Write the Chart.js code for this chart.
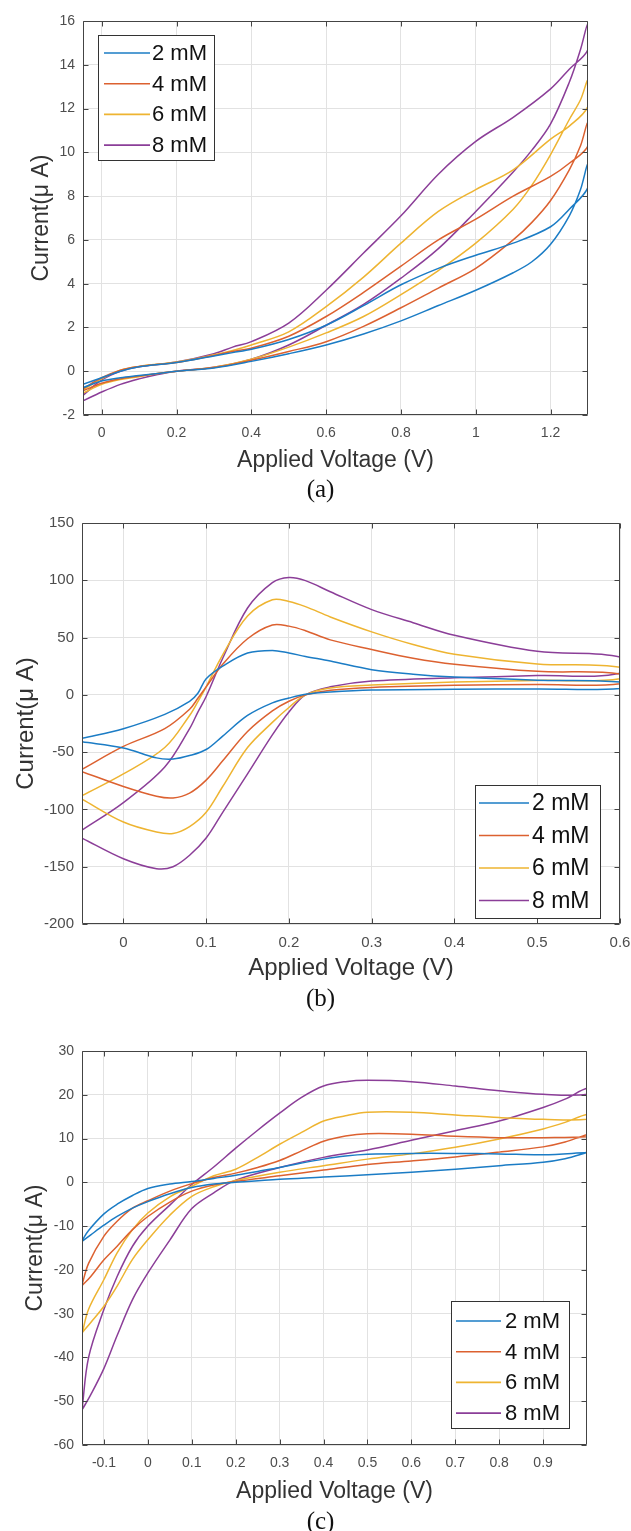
<!DOCTYPE html>
<html><head><meta charset="utf-8">
<script src="https://cdn.jsdelivr.net/npm/chart.js@4.4.1/dist/chart.umd.min.js"></script>
<style>
html,body{margin:0;padding:0;background:#fff;}
body{width:631px;height:1531px;position:relative;overflow:hidden;}
canvas{position:absolute;left:0;}
.cap{position:absolute;left:0;width:641px;text-align:center;font-family:"Liberation Serif","Times New Roman",serif;font-size:25px;line-height:25px;color:#111;}
</style></head><body>
<canvas id="ca" width="631" height="480" style="top:0px"></canvas>
<canvas id="cb" width="631" height="500" style="top:500px"></canvas>
<canvas id="cc" width="631" height="480" style="top:1030px"></canvas>
<div class="cap" style="top:476px">(a)</div>
<div class="cap" style="top:985px">(b)</div>
<div class="cap" style="top:1508px">(c)</div>
<script>
// ---------- shared ----------
const SERIES_LABELS = ['2 mM', '4 mM', '6 mM', '8 mM'];
const X_TITLE = 'Applied Voltage (V)';
const Y_TITLE = 'Current(\u03BC A)';

// ---------- panel (a) ----------
const A_X_TICKS = [0, 0.2, 0.4, 0.6, 0.8, 1, 1.2];
const A_Y_TICKS = [-2, 0, 2, 4, 6, 8, 10, 12, 14, 16];
const A_V_FWD = [-0.05, 0, 0.05, 0.1, 0.15, 0.2, 0.3, 0.4, 0.5, 0.6, 0.7, 0.8, 0.9, 1.0, 1.1, 1.15, 1.2, 1.25, 1.28, 1.3];
const A_V_REV = [1.3, 1.25, 1.2, 1.1, 1.0, 0.9, 0.8, 0.7, 0.6, 0.5, 0.4, 0.35, 0.3, 0.2, 0.1, 0.05, 0, -0.05];
const A_2MM_FWD = [-0.75, -0.45, -0.3, -0.2, -0.1, 0, 0.15, 0.45, 0.8, 1.2, 1.7, 2.3, 3.0, 3.7, 4.5, 5.0, 5.8, 7.1, 8.3, 9.5];
const A_4MM_FWD = [-0.9, -0.55, -0.35, -0.22, -0.1, 0, 0.17, 0.5, 0.9, 1.35, 2.05, 2.9, 3.8, 4.7, 6.0, 6.8, 7.8, 9.2, 10.3, 11.4];
const A_6MM_FWD = [-1.0, -0.6, -0.38, -0.25, -0.1, 0, 0.18, 0.55, 1.1, 1.75, 2.5, 3.5, 4.6, 5.85, 7.4, 8.5, 9.9, 11.5, 12.4, 13.3];
const A_8MM_FWD = [-1.35, -0.95, -0.6, -0.35, -0.15, 0, 0.18, 0.55, 1.2, 2.1, 3.05, 4.25, 5.6, 7.3, 9.1, 10.1, 11.3, 13.2, 14.7, 15.9];
const A_2MM_REV = [8.4, 7.4, 6.6, 5.85, 5.3, 4.7, 3.95, 3.0, 2.1, 1.45, 1.0, 0.85, 0.7, 0.4, 0.2, 0.0, -0.3, -0.6];
const A_4MM_REV = [10.3, 9.5, 8.9, 8.0, 6.95, 6.0, 4.8, 3.6, 2.5, 1.6, 1.05, 0.9, 0.72, 0.4, 0.22, 0.05, -0.3, -0.8];
const A_6MM_REV = [12.1, 11.2, 10.6, 9.2, 8.3, 7.3, 5.85, 4.3, 2.95, 1.8, 1.2, 0.95, 0.75, 0.42, 0.22, 0.05, -0.35, -0.85];
const A_8MM_REV = [14.7, 13.8, 12.9, 11.6, 10.5, 9.0, 7.1, 5.4, 3.7, 2.2, 1.35, 1.1, 0.8, 0.42, 0.2, 0.0, -0.4, -1.1];

// ---------- panel (b) ----------
const B_X_TICKS = [0, 0.1, 0.2, 0.3, 0.4, 0.5, 0.6];
const B_Y_TICKS = [-200, -150, -100, -50, 0, 50, 100, 150];
const B_V_FWD = [-0.05, 0, 0.05, 0.08, 0.09, 0.1, 0.12, 0.15, 0.18, 0.2, 0.22, 0.25, 0.3, 0.35, 0.4, 0.5, 0.6];
const B_V_REV = [0.6, 0.5, 0.4, 0.3, 0.25, 0.22, 0.2, 0.18, 0.15, 0.12, 0.1, 0.08, 0.06, 0.04, 0, -0.05];
const B_2MM_FWD = [-38, -29.5, -17, -5.6, 1.4, 14, 25, 36.5, 38.8, 36.5, 33.5, 29.5, 22, 18, 15.5, 12.8, 11.2];
const B_4MM_FWD = [-65, -45, -29.5, -12.6, -3, 7, 26.7, 49, 61, 60, 56, 48, 39.6, 32, 26.7, 20.5, 18.3];
const B_6MM_FWD = [-88, -69, -46, -18, -6, 7, 35, 68.8, 83, 81.5, 77, 68, 55, 44, 35.5, 27, 24];
const B_8MM_FWD = [-118, -94, -63, -29.5, -15, -1.4, 32, 75.8, 98, 102.5, 99.7, 90, 74.4, 63, 52, 38, 33];
const B_2MM_REV = [5.6, 5.2, 4.8, 4.2, 2.5, 0.5, -2.8, -7, -18, -36, -47.7, -53, -56, -55, -46.3, -41];
const B_4MM_REV = [9.8, 9, 8.4, 6.5, 4, 0, -5.6, -14, -32, -57.6, -74.4, -85.7, -90, -88.5, -80, -67];
const B_6MM_REV = [14, 12.6, 11.2, 8.5, 6, 0, -11, -24, -46, -80, -102.5, -115, -121, -119.7, -111, -91];
const B_8MM_REV = [18.8, 16.8, 14.9, 12, 7, 0, -15, -35, -69, -102.5, -125, -140, -150, -151.7, -143, -125];

// ---------- panel (c) ----------
const C_X_TICKS = [-0.1, 0, 0.1, 0.2, 0.3, 0.4, 0.5, 0.6, 0.7, 0.8, 0.9];
const C_Y_TICKS = [-60, -50, -40, -30, -20, -10, 0, 10, 20, 30];
const C_V_FWD = [-0.15, -0.135, -0.1, -0.07, -0.035, 0, 0.05, 0.1, 0.15, 0.2, 0.25, 0.3, 0.35, 0.4, 0.45, 0.5, 0.6, 0.7, 0.8, 0.9, 1.0];
const C_V_REV = [1.0, 0.95, 0.9, 0.8, 0.7, 0.6, 0.5, 0.4, 0.3, 0.2, 0.15, 0.1, 0.05, 0, -0.035, -0.07, -0.1, -0.13, -0.15];
const C_2MM_FWD = [-13.3, -11, -7.2, -5, -3, -1.4, -0.4, 0.2, 0.9, 1.6, 2.5, 3.4, 4.4, 5.3, 6.0, 6.4, 6.6, 6.6, 6.5, 6.3, 6.8];
const C_4MM_FWD = [-23.4, -18.5, -12.3, -8.9, -5.9, -4.2, -2, -0.3, 1.1, 2.1, 3.4, 5.0, 7.2, 9.4, 10.6, 11.1, 11.0, 10.5, 10.2, 10.2, 10.4];
const C_6MM_FWD = [-34.6, -29, -22.2, -16.1, -10.8, -7, -3.3, -0.9, 1.5, 3.0, 5.7, 8.7, 11.4, 14.0, 15.2, 16.0, 16.0, 15.4, 14.8, 14.4, 14.4];
const C_8MM_FWD = [-52, -40, -29, -21.5, -14.6, -10, -5.2, -0.5, 3.5, 7.8, 11.9, 15.8, 19.4, 22, 23, 23.3, 23, 22, 20.9, 20.1, 20.1];
const C_2MM_REV = [6.8, 5.4, 4.6, 3.8, 3.0, 2.3, 1.75, 1.2, 0.7, 0.0, -0.4, -1.2, -2.6, -4.4, -5.9, -7.8, -9.8, -12, -13.5];
const C_4MM_REV = [10.9, 9.2, 8.1, 6.9, 5.8, 4.9, 4.1, 2.8, 1.5, 0.2, -0.6, -2.0, -4.5, -7.8, -10.8, -14.6, -17.7, -21.5, -23.6];
const C_6MM_REV = [15.5, 13.7, 12.2, 9.9, 8.0, 6.5, 5.3, 3.8, 2.3, 0.4, -1.0, -3.2, -7.5, -13.1, -17.6, -23.7, -28.3, -32, -34.4];
const C_8MM_REV = [21.5, 19, 17.1, 14, 11.8, 9.6, 7.4, 5.7, 3.4, 0.5, -2.4, -6, -13.2, -20.7, -26.8, -35, -42.5, -48.5, -52];

// ---------- styling ----------
const LINE_COLORS = ['#1b7cc5', '#dc6130', '#eeb431', '#8b3e98'];
const FONT_SANS = '"Liberation Sans", Arial, Helvetica, sans-serif';
Chart.defaults.font.family = FONT_SANS;
Chart.defaults.color = '#4d4d4d';

function loop(vf, iF, vr, iR) {
  const pts = [];
  vf.forEach((v, k) => pts.push({ x: v, y: iF[k] }));
  vr.forEach((v, k) => pts.push({ x: v, y: iR[k] }));
  return pts;
}

const framePlugin = {
  id: 'cvFrame',
  afterDatasetsDraw(chart) {
    const { ctx, chartArea: a, scales: { x, y } } = chart;
    ctx.save();
    ctx.strokeStyle = '#444';
    ctx.lineWidth = 1;
    ctx.beginPath();
    const L = Math.round(a.left) + 0.5, R = Math.round(a.right) - 0.5;
    const T = Math.round(a.top) + 0.5, B = Math.round(a.bottom) - 0.5;
    ctx.rect(L, T, R - L, B - T);
    const tl = 5;
    x.ticks.forEach(t => {
      const p = Math.round(x.getPixelForValue(t.value)) + 0.5;
      ctx.moveTo(p, B); ctx.lineTo(p, B - tl);
      ctx.moveTo(p, T); ctx.lineTo(p, T + tl);
    });
    y.ticks.forEach(t => {
      const p = Math.round(y.getPixelForValue(t.value)) + 0.5;
      ctx.moveTo(L, p); ctx.lineTo(L + tl, p);
      ctx.moveTo(R, p); ctx.lineTo(R - tl, p);
    });
    ctx.stroke();
    ctx.restore();
  },
  afterDraw(chart, args, o) {
    if (!o || !o.box) return;
    const { ctx } = chart;
    const b = o.box;
    ctx.save();
    ctx.fillStyle = '#fff';
    ctx.fillRect(b.x, b.y, b.w, b.h);
    ctx.strokeStyle = '#333';
    ctx.lineWidth = 1;
    ctx.strokeRect(b.x + 0.5, b.y + 0.5, b.w, b.h);
    ctx.font = o.fontSize + 'px ' + FONT_SANS;
    ctx.textBaseline = 'middle';
    ctx.textAlign = 'left';
    chart.data.datasets.forEach((ds, k) => {
      const yy = b.y + o.rowStart + k * o.rowGap;
      ctx.strokeStyle = ds.borderColor;
      ctx.lineWidth = 1.6;
      ctx.beginPath();
      ctx.moveTo(b.x + o.lineX0, yy);
      ctx.lineTo(b.x + o.lineX1, yy);
      ctx.stroke();
      ctx.fillStyle = '#111';
      ctx.fillText(ds.label, b.x + o.textX, yy + 1);
    });
    ctx.restore();
  }
};

function makeChart(id, cfg) {
  const fwd = cfg.fwd, rev = cfg.rev;
  const datasets = SERIES_LABELS.map((lab, k) => ({
    label: lab,
    data: loop(cfg.vf, fwd[k], cfg.vr, rev[k]),
    showLine: true,
    borderColor: LINE_COLORS[k],
    backgroundColor: LINE_COLORS[k],
    borderWidth: 1.5,
    pointRadius: 0,
    pointHoverRadius: 0,
    tension: 0.35,
    fill: false
  }));
  const lay = cfg.layout;
  const xTicks = cfg.xTicks, yTicks = cfg.yTicks;
  return new Chart(document.getElementById(id), {
    type: 'scatter',
    data: { datasets },
    plugins: [framePlugin],
    options: {
      responsive: false,
      animation: false,
      devicePixelRatio: 1,
      layout: { padding: lay.padding },
      plugins: {
        legend: { display: false },
        tooltip: { enabled: false },
        cvFrame: cfg.legend
      },
      scales: {
        x: {
          type: 'linear',
          min: cfg.xMin, max: cfg.xMax,
          afterBuildTicks: s => { s.ticks = xTicks.map(v => ({ value: v })); },
          afterFit: s => { s.height = lay.xAxisH; s.paddingLeft = 0; s.paddingRight = 0; },
          grid: { color: '#e2e2e2', lineWidth: 1, drawTicks: false },
          border: { display: false },
          ticks: { padding: 10, maxRotation: 0, autoSkip: false, color: '#4d4d4d',
                   font: { size: cfg.tickSize }, callback: v => String(v) },
          title: { display: true, text: X_TITLE, color: '#333', padding: 0,
                   font: { size: cfg.titleSize, lineHeight: 1.2 } }
        },
        y: {
          type: 'linear',
          min: cfg.yMin, max: cfg.yMax,
          afterBuildTicks: s => { s.ticks = yTicks.map(v => ({ value: v })); },
          afterFit: s => { s.width = lay.yAxisW; s.paddingTop = 0; s.paddingBottom = 0; },
          grid: { color: '#e2e2e2', lineWidth: 1, drawTicks: false },
          border: { display: false },
          ticks: { padding: 8, autoSkip: false, color: '#4d4d4d',
                   font: { size: cfg.tickSize }, callback: v => String(v) },
          title: { display: true, text: Y_TITLE, color: '#333', padding: 0,
                   font: { size: cfg.titleSize, lineHeight: 1.2 } }
        }
      }
    }
  });
}

// panel (a)
makeChart('ca', {
  vf: A_V_FWD, vr: A_V_REV,
  fwd: [A_2MM_FWD, A_4MM_FWD, A_6MM_FWD, A_8MM_FWD],
  rev: [A_2MM_REV, A_4MM_REV, A_6MM_REV, A_8MM_REV],
  xTicks: A_X_TICKS, yTicks: A_Y_TICKS,
  xMin: -0.05, xMax: 1.3, yMin: -2, yMax: 16,
  tickSize: 14, titleSize: 23,
  layout: { padding: { left: 28, right: 43, top: 21, bottom: 6 }, yAxisW: 55, xAxisH: 59 },
  legend: { box: { x: 98, y: 35, w: 116, h: 125 }, rowStart: 18, rowGap: 30.7, lineX0: 6, lineX1: 52, textX: 54, fontSize: 22 }
});

// panel (b)
makeChart('cb', {
  vf: B_V_FWD, vr: B_V_REV,
  fwd: [B_2MM_FWD, B_4MM_FWD, B_6MM_FWD, B_8MM_FWD],
  rev: [B_2MM_REV, B_4MM_REV, B_6MM_REV, B_8MM_REV],
  xTicks: B_X_TICKS, yTicks: B_Y_TICKS,
  xMin: -0.05, xMax: 0.6, yMin: -200, yMax: 150,
  tickSize: 15, titleSize: 24,
  layout: { padding: { left: 12, right: 11, top: 23, bottom: 17 }, yAxisW: 70, xAxisH: 59 },
  legend: { box: { x: 475, y: 285, w: 125, h: 133 }, rowStart: 18, rowGap: 32.5, lineX0: 4, lineX1: 54, textX: 57, fontSize: 23 }
});

// panel (c)
makeChart('cc', {
  vf: C_V_FWD, vr: C_V_REV,
  fwd: [C_2MM_FWD, C_4MM_FWD, C_6MM_FWD, C_8MM_FWD],
  rev: [C_2MM_REV, C_4MM_REV, C_6MM_REV, C_8MM_REV],
  xTicks: C_X_TICKS, yTicks: C_Y_TICKS,
  xMin: -0.15, xMax: 1.0, yMin: -60, yMax: 30,
  tickSize: 14, titleSize: 23,
  layout: { padding: { left: 22, right: 44, top: 21, bottom: 5 }, yAxisW: 60, xAxisH: 60 },
  legend: { box: { x: 451, y: 271, w: 118, h: 127 }, rowStart: 20, rowGap: 30.7, lineX0: 5, lineX1: 50, textX: 54, fontSize: 22 }
});
</script>
</body></html>
